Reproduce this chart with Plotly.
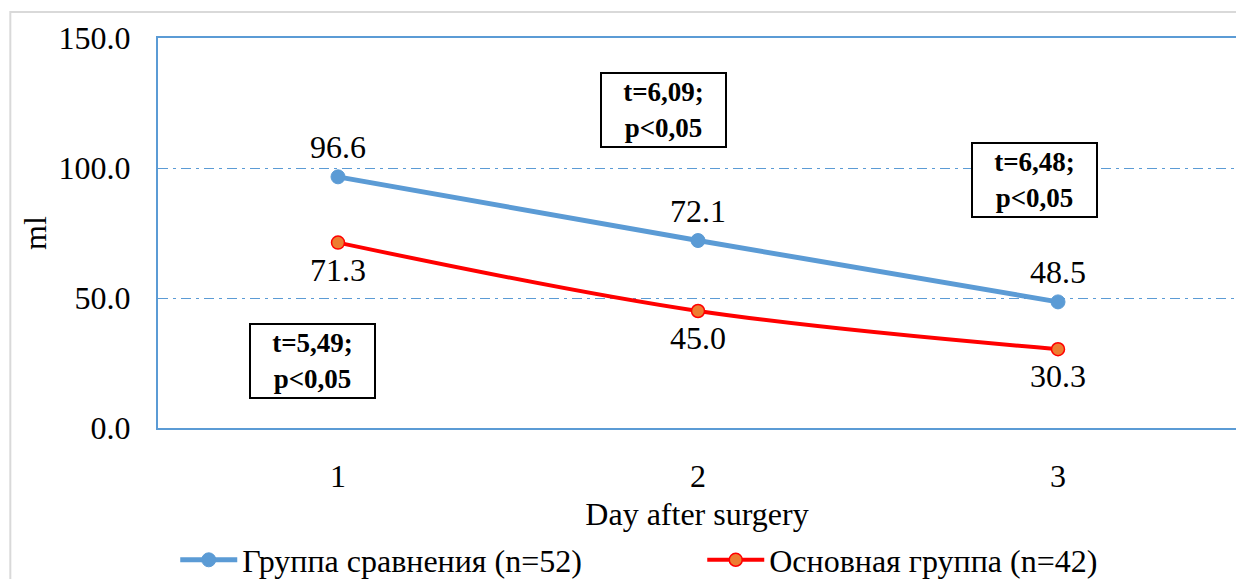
import plotly.graph_objects as go

days = [1, 2, 3]
day_labels = ["1", "2", "3"]
comparison = [96.6, 72.1, 48.5]
main_group = [71.3, 45.0, 30.3]
series_names = ["Группа сравнения (n=52)", "Основная группа (n=42)"]
stat_texts = ["t=5,49;<br>p<0,05", "t=6,09;<br>p<0,05", "t=6,48;<br>p<0,05"]
stat_x = [0.93, 1.903, 2.936]
stat_y = [25.8, 122.2, 95.3]

BLUE = "#5b9bd5"
RED = "#ff0000"
ORANGE = "#ed7d31"
FONT = "Liberation Serif, Times New Roman, DejaVu Serif, serif"
FS = 32

fig = go.Figure()
fig.add_trace(go.Scatter(
    x=days, y=comparison, name=series_names[0], mode="lines+markers",
    line=dict(color=BLUE, width=5, shape="spline"),
    marker=dict(color=BLUE, size=14, line=dict(color=BLUE, width=1)),
))
fig.add_trace(go.Scatter(
    x=days, y=main_group, name=series_names[1], mode="lines+markers",
    line=dict(color=RED, width=4, shape="spline"),
    marker=dict(color=ORANGE, size=13, line=dict(color=RED, width=1.5)),
))

annotations = []
for xv, yv in zip(days, comparison):
    annotations.append(dict(x=xv, y=yv, xref="x", yref="y", text=f"{yv:.1f}",
                            showarrow=False, yshift=30,
                            font=dict(family=FONT, size=FS, color="black")))
for xv, yv in zip(days, main_group):
    annotations.append(dict(x=xv, y=yv, xref="x", yref="y", text=f"{yv:.1f}",
                            showarrow=False, yshift=-27,
                            font=dict(family=FONT, size=FS, color="black")))
for t, xv, yv in zip(stat_texts, stat_x, stat_y):
    annotations.append(dict(x=xv, y=yv, xref="x", yref="y", text=f"<b>{t}</b>",
                            showarrow=False, bordercolor="black", borderwidth=2,
                            borderpad=0, width=123, height=72, bgcolor="white",
                            font=dict(family=FONT, size=27, color="black")))

fig.update_layout(
    width=1236, height=579,
    margin=dict(l=158, r=0, t=38, b=151, autoexpand=False),
    paper_bgcolor="white", plot_bgcolor="white",
    font=dict(family=FONT, color="black", size=FS),
    annotations=annotations,
    showlegend=True,
    legend=dict(orientation="h", x=0.016, xanchor="left",
                yref="container", y=(579 - 560) / 579, yanchor="middle",
                font=dict(family=FONT, size=FS, color="black"),
                itemwidth=57, entrywidth=455, bgcolor="rgba(0,0,0,0)"),
    shapes=[dict(type="rect", xref="paper", yref="paper",
                 x0=-0.137, x1=1.05, y0=-0.5, y1=(390 + 26) / 390,
                 line=dict(color="#d9d9d9", width=2), layer="below")],
)
fig.update_xaxes(
    range=[0.5, 3.4944], tickvals=days, ticktext=day_labels,
    showline=True, linecolor=BLUE, linewidth=2, mirror=True,
    showgrid=False, ticks="", ticklen=0, ticklabelstandoff=19,
    tickfont=dict(family=FONT, size=FS, color="black"),
    title=dict(text="Day after surgery", standoff=14,
               font=dict(family=FONT, size=FS, color="black")),
    zeroline=False, automargin=False,
)
fig.update_yaxes(
    range=[0, 150], tickvals=[0, 50, 100, 150], tickformat=".1f",
    showline=True, linecolor=BLUE, linewidth=2,
    showgrid=True, gridcolor=BLUE, gridwidth=1, griddash="10px,5px,3px,5px",
    ticks="", ticklen=0, ticklabelstandoff=19,
    tickfont=dict(family=FONT, size=FS, color="black"),
    title=dict(text="ml", standoff=2, font=dict(family=FONT, size=FS, color="black")),
    zeroline=False, automargin=False,
)

fig.write_html("out.html", config={"displayModeBar": False},
               post_script="document.body.style.margin='0';document.body.style.overflow='hidden';")
